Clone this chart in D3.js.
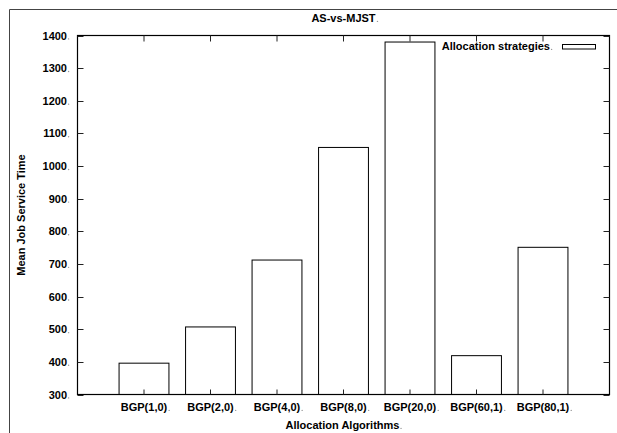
<!DOCTYPE html>
<html>
<head>
<meta charset="utf-8">
<script src="https://cdn.jsdelivr.net/npm/d3@7"></script>
<style>
  html, body { margin: 0; padding: 0; background: #fff; }
  text { font-family: "Liberation Sans", Arial, sans-serif; font-weight: bold; font-size: 11px; fill: #000; }
</style>
</head>
<body>
<svg id="chart" width="617" height="433"></svg>
<script>
// Mean job service time per allocation algorithm
const categories = ["BGP(1,0)", "BGP(2,0)", "BGP(4,0)", "BGP(8,0)", "BGP(20,0)", "BGP(60,1)", "BGP(80,1)"];
const serviceTime = [396, 507, 712, 1057, 1380, 419, 751];
const yTicks = [300, 400, 500, 600, 700, 800, 900, 1000, 1100, 1200, 1300, 1400];
const title = "AS-vs-MJST";
const xTitle = "Allocation Algorithms";
const yTitle = "Mean Job Service Time";
const legendLabel = "Allocation strategies";

const svg = d3.select("#chart");
const W = 617, H = 433;
const plot = { left: 77.5, right: 609.5, top: 35.5, bottom: 394.5 };

// outer page frame
svg.append("path")
  .attr("d", `M9.5,${H} V9.5 H${W}`)
  .attr("fill", "none").attr("stroke", "#444").attr("stroke-width", 1);

// categories sit at 1..n on a 0..n+1 axis
const x = d3.scaleLinear().domain([0, categories.length + 1]).range([plot.left, plot.right]);
const y = d3.scaleLinear().domain([300, 1400]).range([plot.bottom, plot.top]);
const barW = (x(1) - x(0)) * 0.75;

// trailing dot helper for labels
function addDot(sel) {
  sel.each(function () {
    const t = d3.select(this);
    const node = this;
    const bb = node.getBBox();
    const anchor = t.attr("text-anchor") || "start";
    svg.append("circle")
      .attr("cx", bb.x + bb.width + 1.6)
      .attr("cy", +t.attr("y") - 0.6 + (t.attr("dy") ? 0 : 0))
      .attr("r", 0.7)
      .attr("fill", "#999");
  });
}

// bars
svg.append("g").selectAll("rect")
  .data(serviceTime)
  .join("rect")
  .attr("x", (d, i) => x(i + 1) - barW / 2)
  .attr("y", d => y(d))
  .attr("width", barW)
  .attr("height", d => y(300) - y(d))
  .attr("fill", "#fff")
  .attr("stroke", "#000")
  .attr("stroke-width", 1);

// plot border
svg.append("rect")
  .attr("x", plot.left).attr("y", plot.top)
  .attr("width", plot.right - plot.left).attr("height", plot.bottom - plot.top)
  .attr("fill", "none").attr("stroke", "#000").attr("stroke-width", 1.2);

// inward ticks on all four sides
const tickG = svg.append("g").attr("stroke", "#222").attr("stroke-width", 1);
yTicks.forEach(v => {
  const yy = Math.round(y(v)) + 0.5;
  tickG.append("line").attr("x1", plot.left).attr("x2", plot.left + 6).attr("y1", yy).attr("y2", yy);
  tickG.append("line").attr("x1", plot.right - 6).attr("x2", plot.right).attr("y1", yy).attr("y2", yy);
});
categories.forEach((c, i) => {
  const xx = x(i + 1);
  tickG.append("line").attr("x1", xx).attr("x2", xx).attr("y1", plot.bottom).attr("y2", plot.bottom - 5);
  tickG.append("line").attr("x1", xx).attr("x2", xx).attr("y1", plot.top).attr("y2", plot.top + 6);
});

// y tick labels
const yl = svg.append("g").selectAll("text")
  .data(yTicks)
  .join("text")
  .attr("x", 67)
  .attr("y", d => y(d) + 4)
  .attr("text-anchor", "end")
  .text(d => d);
addDot(yl);

// x tick labels
const xl = svg.append("g").selectAll("text")
  .data(categories)
  .join("text")
  .attr("x", (d, i) => x(i + 1))
  .attr("y", 411)
  .attr("text-anchor", "middle")
  .text(d => d);
addDot(xl);

// titles
const tt = svg.append("text").attr("x", (plot.left + plot.right) / 2).attr("y", 22)
  .attr("text-anchor", "middle").text(title);
addDot(tt);

const xt = svg.append("text").attr("x", (plot.left + plot.right) / 2 - 1).attr("y", 429)
  .attr("text-anchor", "middle").text(xTitle);
addDot(xt);

svg.append("text")
  .attr("transform", `translate(25,${(plot.top + plot.bottom) / 2}) rotate(-90)`)
  .attr("text-anchor", "middle").text(yTitle);

// legend
const lg = svg.append("text").attr("x", 550).attr("y", 50).attr("text-anchor", "end").text(legendLabel);
addDot(lg);
svg.append("rect")
  .attr("x", 562.5).attr("y", 44.5).attr("width", 33).attr("height", 4.5)
  .attr("fill", "#fff").attr("stroke", "#000").attr("stroke-width", 1);
</script>
</body>
</html>
